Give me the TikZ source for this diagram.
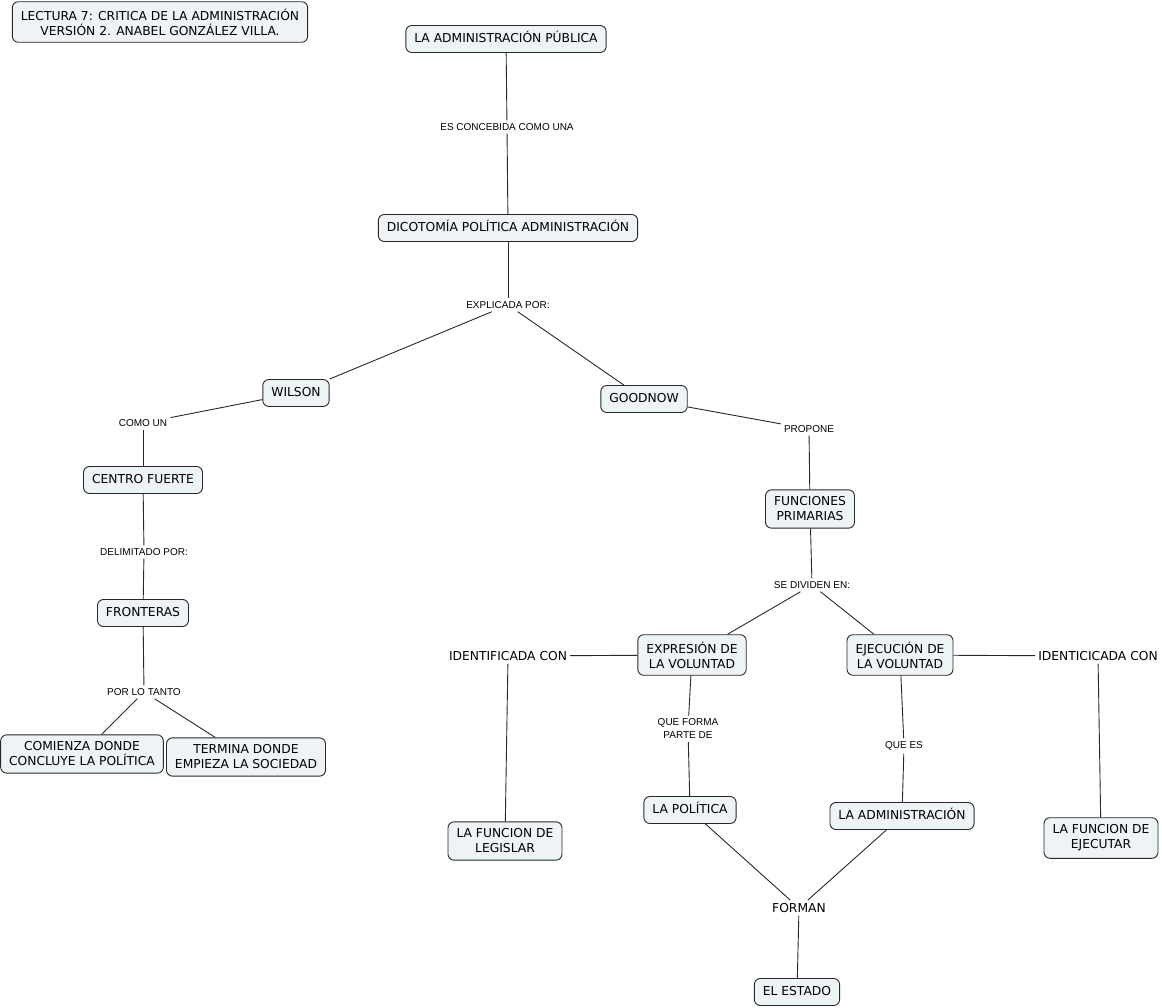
\documentclass[tikz,border=0pt]{standalone}
\usepackage{fontspec}
\newfontfamily\concfont{DejaVu Sans}
\newfontfamily\lblfont{Liberation Sans}
\definecolor{cfill}{RGB}{238,243,246}
\definecolor{cline}{RGB}{40,40,40}
\begin{document}
\begin{tikzpicture}[x=1pt,y=-1pt,
  concept/.style={draw=cline,fill=cfill,rounded corners=6pt,line width=0.9pt,
    inner xsep=8.5pt,inner ysep=7pt,align=center,
    font=\concfont\fontsize{12.3}{15}\selectfont},
  one/.style={text height=9.5pt,text depth=2.5pt,inner ysep=7.5pt},
  lbl/.style={inner sep=3pt,align=center,font=\lblfont\fontsize{10}{13}\selectfont},
  biglbl/.style={inner sep=3pt,align=center,font=\concfont\fontsize{12.3}{15}\selectfont},
  conn/.style={draw=cline,line width=0.9pt}]
\useasboundingbox (0,0) rectangle (1162,1008);

% concepts
\node[concept] (title) at (160,22) {LECTURA 7: CRITICA DE LA ADMINISTRACIÓN\\VERSIÓN 2. ANABEL GONZÁLEZ VILLA.};
\node[concept,one] (adm) at (506,39) {LA ADMINISTRACIÓN PÚBLICA};
\node[concept,one] (dic) at (508,228) {DICOTOMÍA POLÍTICA ADMINISTRACIÓN};
\node[concept,one] (wil) at (296,393) {WILSON};
\node[concept,one] (good) at (644,399) {GOODNOW};
\node[concept,one] (cen) at (143,480) {CENTRO FUERTE};
\node[concept,one] (fro) at (143,613) {FRONTERAS};
\node[concept] (com) at (82,754) {COMIENZA DONDE\\CONCLUYE LA POLÍTICA};
\node[concept] (ter) at (246,757) {TERMINA DONDE\\EMPIEZA LA SOCIEDAD};
\node[concept] (fun) at (810,509) {FUNCIONES\\PRIMARIAS};
\node[concept] (exp) at (692,655) {EXPRESIÓN DE\\LA VOLUNTAD};
\node[concept] (eje) at (900,655) {EJECUCIÓN DE\\LA VOLUNTAD};
\node[concept,one] (pol) at (690,810) {LA POLÍTICA};
\node[concept,one] (ladm) at (902,816) {LA ADMINISTRACIÓN};
\node[concept] (leg) at (505,841) {LA FUNCION DE\\LEGISLAR};
\node[concept] (ejc) at (1101,838) {LA FUNCION DE\\EJECUTAR};
\node[concept,one] (est) at (797,992) {EL ESTADO};

% link labels
\node[lbl] (l1) at (507,127) {ES CONCEBIDA COMO UNA};
\node[lbl] (l2) at (508,305) {EXPLICADA POR:};
\node[lbl] (l3) at (143,423) {COMO UN};
\node[lbl] (l4) at (809,429) {PROPONE};
\node[lbl] (l5) at (144,552) {DELIMITADO POR:};
\node[lbl] (l6) at (144,692) {POR LO TANTO};
\node[lbl] (l7) at (812,585) {SE DIVIDEN EN:};
\node[biglbl] (l8) at (508,656) {IDENTIFICADA CON};
\node[biglbl] (l9) at (1098,656) {IDENTICICADA CON};
\node[lbl] (l10) at (688,729) {QUE FORMA\\PARTE DE};
\node[lbl] (l11) at (904,746) {QUE ES};
\node[biglbl] (l12) at (799,908) {FORMAN};

% connectors
\draw[conn] (adm) -- (l1);
\draw[conn] (l1) -- (dic);
\draw[conn] (dic) -- (l2);
\draw[conn] (l2) -- (wil);
\draw[conn] (l2) -- (good);
\draw[conn] (wil) -- (l3);
\draw[conn] (l3) -- (cen);
\draw[conn] (good) -- (l4);
\draw[conn] (l4) -- (fun);
\draw[conn] (cen) -- (l5);
\draw[conn] (l5) -- (fro);
\draw[conn] (fro) -- (l6);
\draw[conn] (l6) -- (com);
\draw[conn] (l6) -- (ter);
\draw[conn] (fun) -- (l7);
\draw[conn] (l7) -- (exp);
\draw[conn] (l7) -- (eje);
\draw[conn] (exp) -- (l8);
\draw[conn] (l8) -- (leg);
\draw[conn] (eje) -- (l9);
\draw[conn] (l9) -- (ejc);
\draw[conn] (exp) -- (l10);
\draw[conn] (l10) -- (pol);
\draw[conn] (eje) -- (l11);
\draw[conn] (l11) -- (ladm);
\draw[conn] (pol) -- (l12);
\draw[conn] (ladm) -- (l12);
\draw[conn] (l12) -- (est);
\end{tikzpicture}
\end{document}
